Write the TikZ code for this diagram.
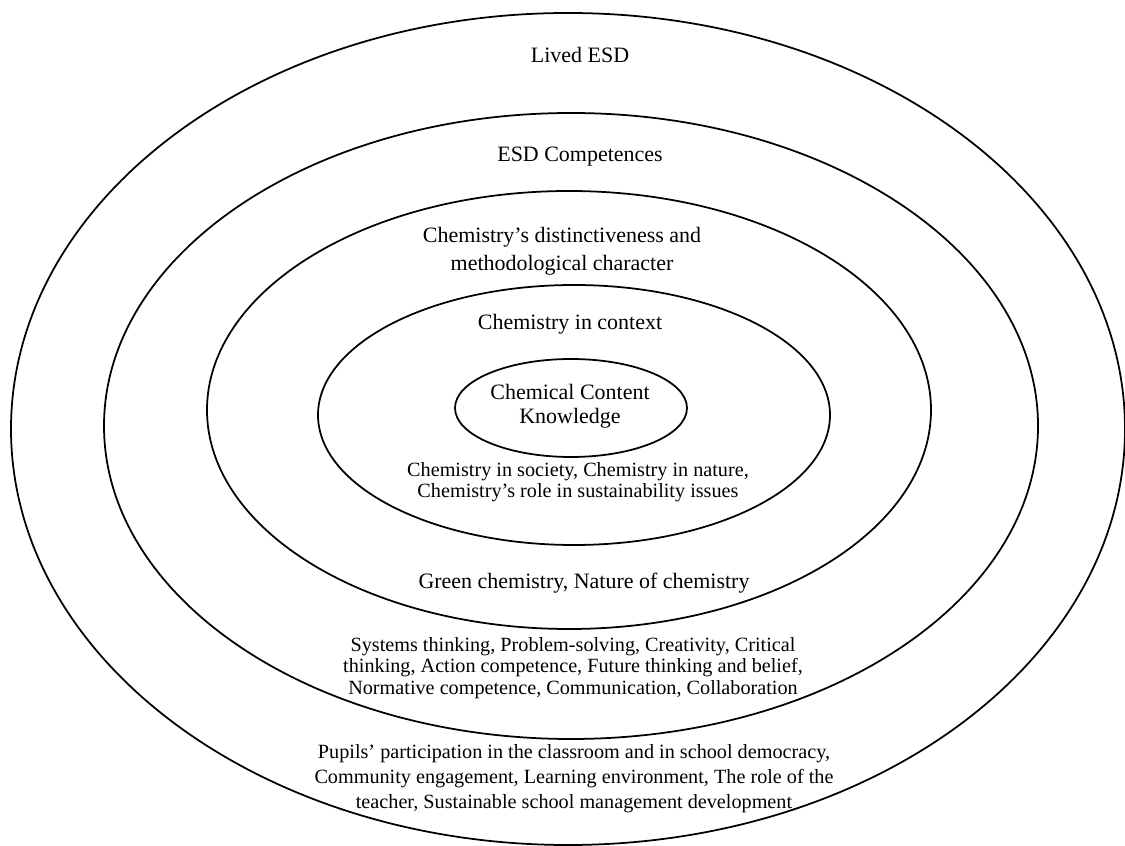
\documentclass[tikz,border=0pt]{standalone}
\usepackage{fontspec}
\setmainfont{Liberation Serif}
\begin{document}
\begin{tikzpicture}[x=0.02cm,y=0.02cm,
	ring/.style={line width=1pt},
	headlbl/.style={align=center,inner sep=0pt,font=\fontsize{12.5}{16}\selectfont},
	bodylbl/.style={align=center,inner sep=0pt,font=\fontsize{11.5}{12.3}\selectfont}]
	\useasboundingbox (0,0) rectangle (1125,845);
	% rings, outer to inner
	\draw[ring] (568,416) ellipse [x radius=557, y radius=416];
	\draw[ring] (571,419) ellipse [x radius=467, y radius=313];
	\draw[ring] (569,435) ellipse [x radius=362, y radius=219];
	\draw[ring] (574,430) ellipse [x radius=256, y radius=130];
	\draw[ring] (571,437) ellipse [x radius=116, y radius=49];
	% labels
	\node[headlbl] (lived) at (580,790) {Lived ESD};
	\node[headlbl] (comp) at (580,688) {ESD Competences};
	\node[headlbl] (distinct) at (562,594) {Chemistry’s distinctiveness and\\methodological character};
	\node[headlbl] (context) at (570,521) {Chemistry in context};
	\node[headlbl,font=\fontsize{12.5}{13.7}\selectfont] (content) at (570,439) {Chemical Content\\Knowledge};
	\node[bodylbl] (society) at (578,363) {Chemistry in society, Chemistry in nature,\\Chemistry’s role in sustainability issues};
	\node[headlbl] (green) at (584,262) {Green chemistry, Nature of chemistry};
	\node[bodylbl] (systems) at (573,177) {Systems thinking, Problem-solving, Creativity, Critical\\thinking, Action competence, Future thinking and belief,\\Normative competence, Communication, Collaboration};
	\node[bodylbl,font=\fontsize{11.5}{14.2}\selectfont] (pupils) at (574,66) {Pupils’ participation in the classroom and in school democracy,\\Community engagement, Learning environment, The role of the\\teacher, Sustainable school management development};
\end{tikzpicture}
\end{document}
